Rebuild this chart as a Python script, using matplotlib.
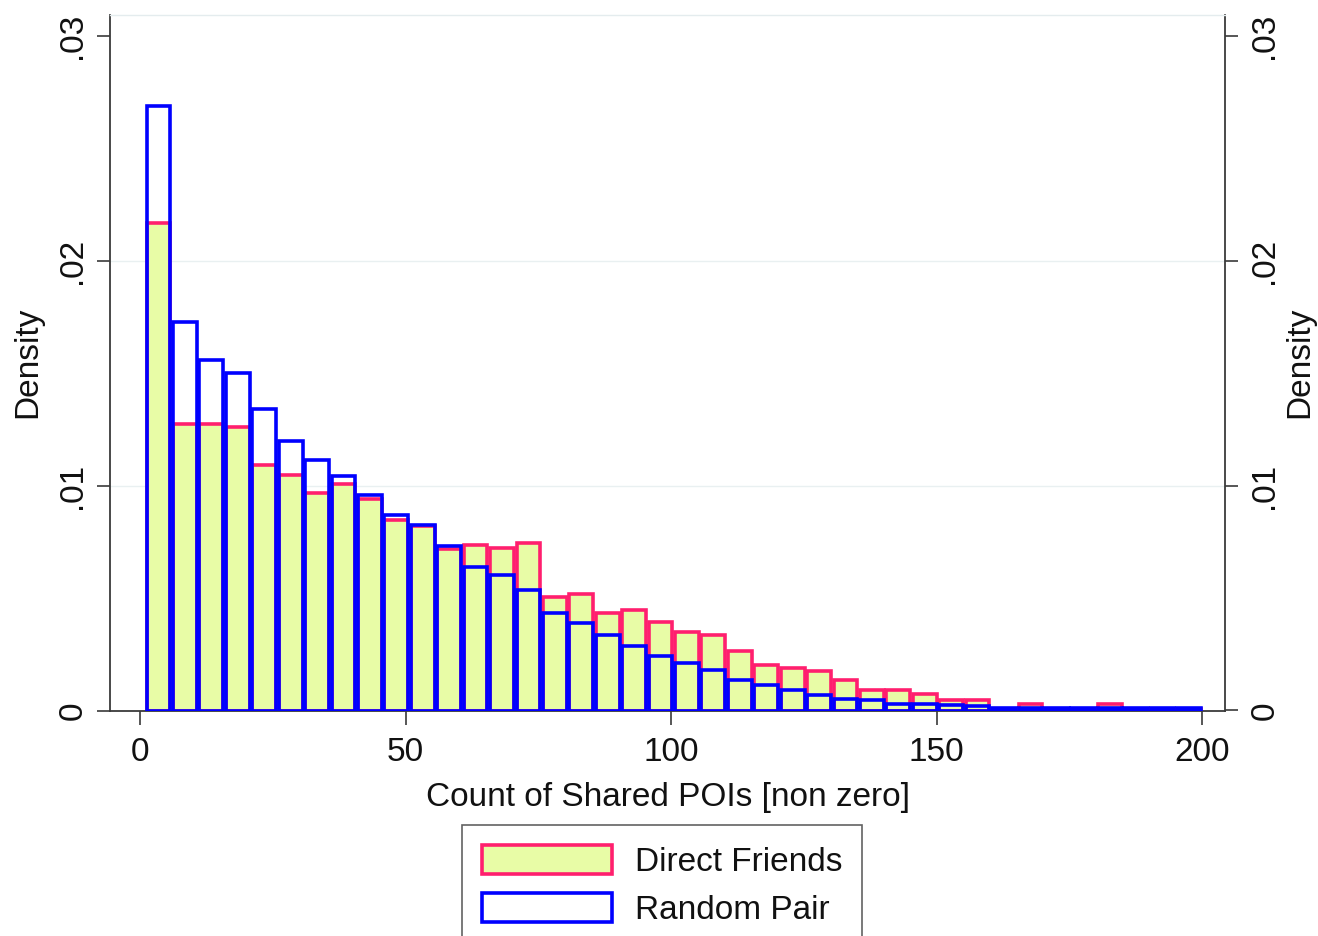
import numpy as np
import matplotlib
matplotlib.use("Agg")
import matplotlib.pyplot as plt
from matplotlib.patches import Patch

plt.rcParams["font.family"] = ["Liberation Sans", "DejaVu Sans"]

# 40 histogram bins between the smallest (1) and largest (200) count
bin_start = 1
bin_end = 200
n_bins = 40

# density per bin
direct_friends = [
    0.02166, 0.01276, 0.01276, 0.01261, 0.01090, 0.01046, 0.00968, 0.01006,
    0.00939, 0.00849, 0.00820, 0.00717, 0.00734, 0.00722, 0.00746, 0.00504,
    0.00518, 0.00433, 0.00445, 0.00393, 0.00349, 0.00334, 0.00264, 0.00203,
    0.00188, 0.00174, 0.00134, 0.00089, 0.00089, 0.00074, 0.00045, 0.00045,
    0.00008, 0.00027, 0.00005, 0.00005, 0.00027, 0.00005, 0.00005, 0.00005,
]
random_pair = [
    0.02688, 0.01726, 0.01558, 0.01501, 0.01343, 0.01197, 0.01113, 0.01043,
    0.00957, 0.00868, 0.00823, 0.00731, 0.00638, 0.00604, 0.00534, 0.00435,
    0.00387, 0.00336, 0.00289, 0.00242, 0.00212, 0.00181, 0.00134, 0.00114,
    0.00089, 0.00070, 0.00053, 0.00046, 0.00030, 0.00028, 0.00025, 0.00020,
    0.00010, 0.00010, 0.00010, 0.00010, 0.00010, 0.00010, 0.00010, 0.00010,
]

series_labels = ["Direct Friends", "Random Pair"]
x_ticks = [0, 50, 100, 150, 200]
y_ticks = [0, 0.01, 0.02, 0.03]
y_tick_labels = ["0", ".01", ".02", ".03"]

bin_edges = np.linspace(bin_start, bin_end, n_bins + 1)
bin_width = bin_edges[1] - bin_edges[0]
centers = bin_edges[:-1] + bin_width / 2

fill_green = "#e8fca6"
pink = "#ff1f6e"
blue = "#0000ff"
axis_col = "#3a3a3a"
text_col = "#111111"
bar_lw = 2.6

fig = plt.figure(figsize=(13.18, 9.36), dpi=100)
ax = fig.add_axes([110 / 1318, 1 - 710.5 / 936, 1115 / 1318, 695.5 / 936])

# friends drawn filled, random pairs as outlines on top
ax.bar(centers, direct_friends, width=bin_width * 0.9, facecolor=fill_green,
       edgecolor=pink, linewidth=bar_lw, zorder=2)
ax.bar(centers, random_pair, width=bin_width * 0.9, facecolor="none",
       edgecolor=blue, linewidth=bar_lw, zorder=3)

for y in y_ticks[1:-1]:
    ax.axhline(y, color="#e9f0f1", linewidth=1, zorder=0)

ax.set_xlim(-5.65, 204.3)
ax.set_ylim(0, 0.03093)

ax.set_xticks(x_ticks)
ax.set_xticklabels([str(t) for t in x_ticks])
ax.set_yticks(y_ticks)
ax.set_yticklabels(y_tick_labels, rotation=90, va="center")

ax.tick_params(axis="x", length=10, width=1.2, color=axis_col, pad=9,
               labelsize=24, labelcolor=text_col)
ax.tick_params(axis="y", length=9.5, width=1.2, color=axis_col, pad=6,
               labelsize=24, labelcolor=text_col)

ax.set_xlabel("Count of Shared POIs [non zero]", fontsize=24, color=text_col,
              labelpad=10)
ax.set_ylabel("Density", fontsize=24, color=text_col, labelpad=10)

for side in ["left", "bottom", "right"]:
    ax.spines[side].set_color(axis_col)
    ax.spines[side].set_linewidth(1.3)
ax.spines["top"].set_color("#e4ecee")
ax.spines["top"].set_linewidth(1)

# mirrored density axis on the right
ax2 = ax.twinx()
ax2.set_ylim(ax.get_ylim())
ax2.set_yticks(y_ticks)
ax2.set_yticklabels(y_tick_labels, rotation=90, va="center")
ax2.tick_params(axis="y", length=9.5, width=1.2, color=axis_col, pad=8,
                labelsize=24, labelcolor=text_col)
ax2.set_ylabel("Density", fontsize=24, color=text_col, labelpad=3)
for sp in ax2.spines.values():
    sp.set_visible(False)

handles = [
    Patch(facecolor=fill_green, edgecolor=pink, linewidth=bar_lw, label=series_labels[0]),
    Patch(facecolor="white", edgecolor=blue, linewidth=bar_lw, label=series_labels[1]),
]
leg = fig.legend(handles=handles, loc="upper center",
                 bbox_to_anchor=(662 / 1318, 1 - 825 / 936), fontsize=24,
                 frameon=True, fancybox=False, edgecolor=axis_col,
                 handlelength=3.9, handleheight=0.95, handletextpad=0.7,
                 borderpad=0.6, labelspacing=0.45, borderaxespad=0)
leg.get_frame().set_linewidth(1.2)
for t in leg.get_texts():
    t.set_color(text_col)

fig.savefig("out.png", dpi=100, facecolor="white")
